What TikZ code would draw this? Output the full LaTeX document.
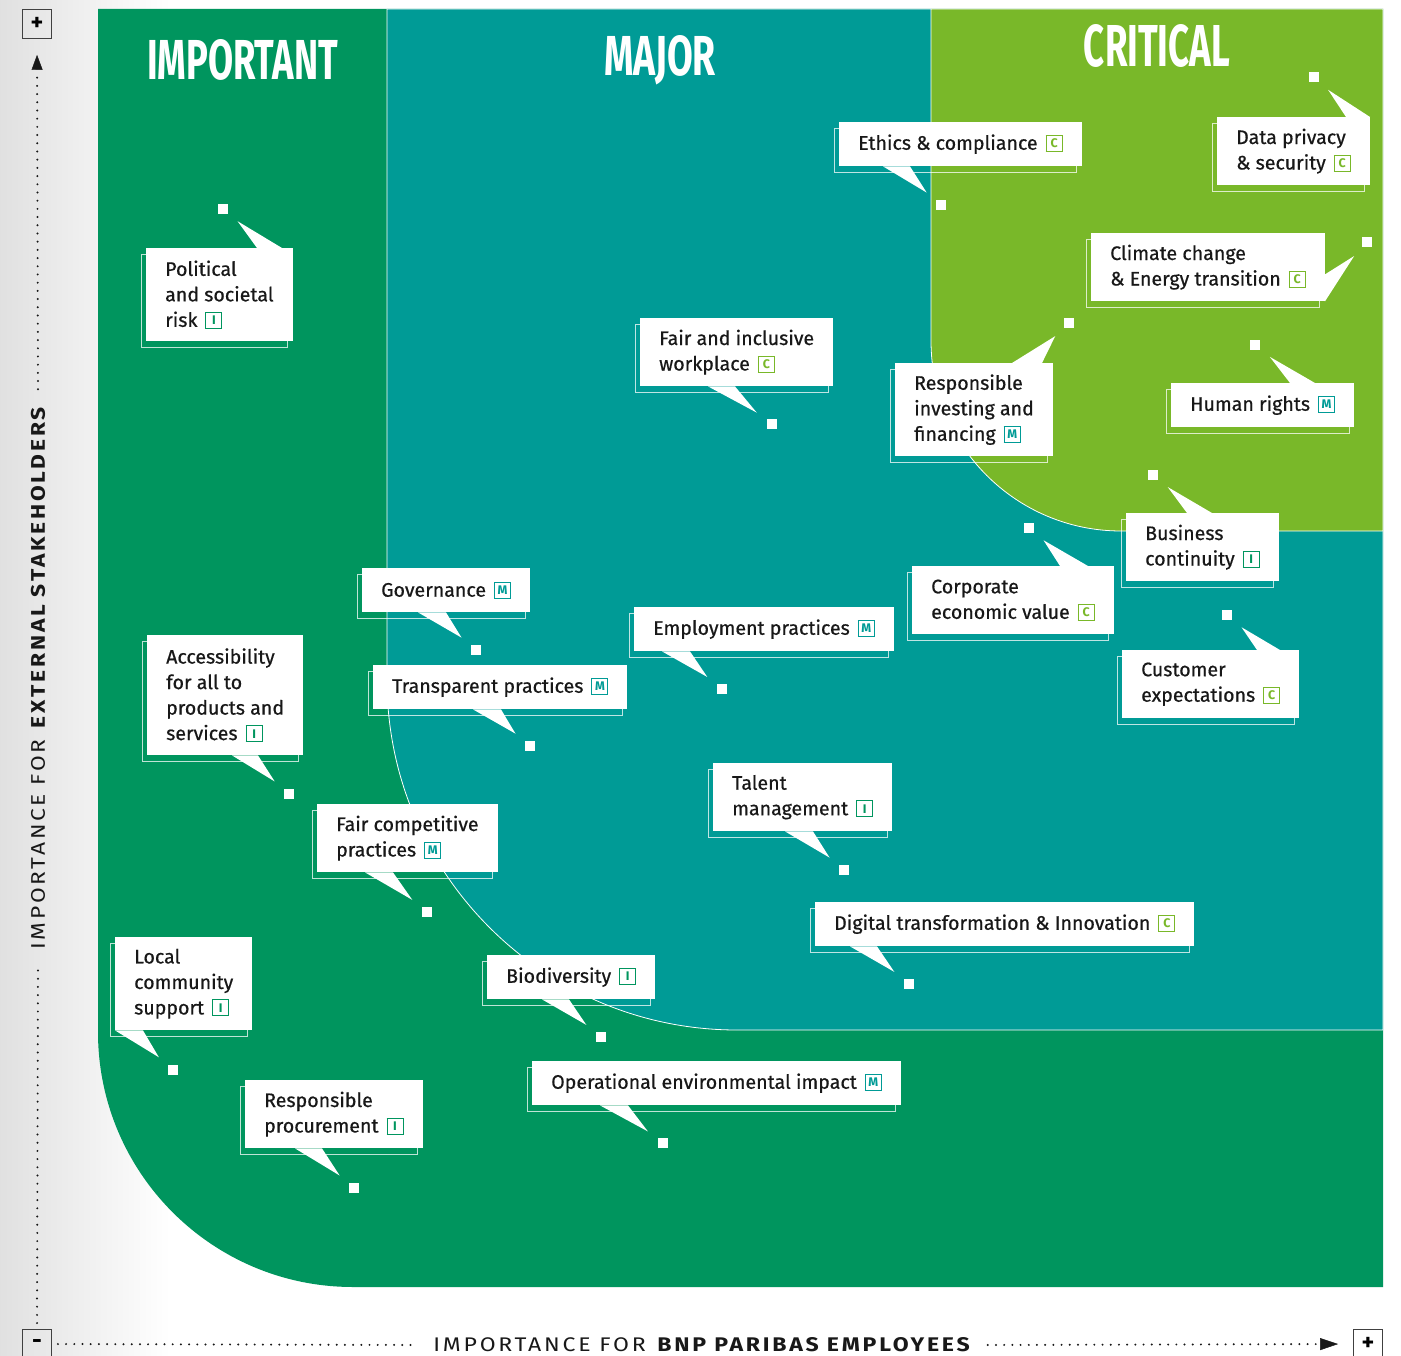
\documentclass[tikz,border=0pt]{standalone}
\usepackage{fontspec}
\setmainfont{Fira Sans}[UprightFeatures={FakeBold=0.6}]
\newfontfamily\axisfont[LetterSpace=12]{Fira Sans}
\usepackage{graphicx}
\usetikzlibrary{arrows.meta,calc,shadows}

\definecolor{important}{RGB}{0,149,94}
\definecolor{major}{RGB}{0,155,150}
\definecolor{critical}{RGB}{121,184,41}
\definecolor{ink}{RGB}{24,24,24}

% small coloured level tag behind a label
\newcommand{\grade}[2]{\hspace{8pt}\raisebox{-1pt}{\setlength{\fboxsep}{0pt}\setlength{\fboxrule}{1pt}%
  \fcolorbox{#1}{white}{\makebox[15pt]{\rule{0pt}{15pt}\raisebox{3pt}{\color{#1}\fontsize{12.5}{12.5}\selectfont\bfseries #2}}}}}
% pointer of a callout: box, anchor, two offsets on its edge, marker
\newcommand{\callouttip}[5]{%
  \path ($(#1.#2)+(#3)$) coordinate (t1);
  \path ($(#1.#2)+(#4)$) coordinate (t2);
  \path ($(t1)!.5!(t2)$) coordinate (tm);
  \fill [white] (t1) -- ($(#5)!19pt!(tm)$) -- (t2) -- cycle;}

\begin{document}
\begin{tikzpicture}[x=1pt,y=-1pt]
  \tikzstyle{issue} = [fill=white, text=ink, align=left, anchor=north west, inner xsep=19pt, inner ysep=0pt,
    font=\fontsize{19.6}{25.5}\selectfont,
    copy shadow={shadow xshift=-5pt, shadow yshift=-6pt, fill=none, draw=white, opacity=.75, line width=.8pt}]
  \tikzstyle{l1} = [minimum height=44pt]
  \tikzstyle{l2} = [minimum height=68pt]
  \tikzstyle{l3} = [minimum height=93pt]
  \tikzstyle{l4} = [minimum height=120pt]
  \tikzstyle{spot} = [fill=white, minimum size=10pt, inner sep=0pt]
  \tikzstyle{title} = [text=white, font=\bfseries, inner sep=0pt]
  \tikzstyle{axisbox} = [draw=black!75, line width=.8pt, minimum size=29pt, inner sep=0pt, font=\bfseries\fontsize{24}{24}\selectfont]
  \tikzstyle{axislabel} = [text=ink, inner xsep=15pt, inner ysep=0pt, font=\axisfont]
  \tikzstyle{dots} = [ink, line width=2.2pt, line cap=round, dash pattern=on 0pt off 8.2pt]

  \useasboundingbox (0,0) rectangle (1401,1356);
  \fill [white] (0,0) rectangle (1401,1356);
  \shade [left color=black!12, right color=white] (0,0) rectangle (170,1356);

  % zones
  \fill [important] (1383,9) -- (98,9) -- (98,1032) arc[start angle=180, end angle=270, radius=255pt] -- (1383,1287) -- cycle;
  \filldraw [major, draw=white, line width=.8pt] (1383,9) -- (387,9) -- (387,680) arc[start angle=180, end angle=270, radius=350pt] -- (1383,1030) -- cycle;
  \filldraw [critical, draw=white, line width=.8pt] (1383,9) -- (931,9) -- (931,341) arc[start angle=180, end angle=270, radius=190pt] -- (1383,531) -- cycle;

  \node [title] (timportant) at (242.5,59.5) {\resizebox{191pt}{40pt}{IMPORTANT}};
  \node [title] (tmajor) at (660,60) {\resizebox{112pt}{40pt}{MAJOR}};
  \node [title] (tcritical) at (1157,46) {\resizebox{146pt}{42pt}{CRITICAL}};

  % axes
  \node [axisbox] (ytop) at (37,24) {+};
  \node [axisbox] (origin) at (37,1344) {-};
  \node [axisbox] (xend) at (1368,1344) {+};
  \node [axislabel, rotate=90] (ylabel) at (38,677) {\resizebox{545pt}{14pt}{IMPORTANCE FOR \textbf{EXTERNAL STAKEHOLDERS}}};
  \node [axislabel] (xlabel) at (703,1345) {\resizebox{539pt}{14pt}{IMPORTANCE FOR \textbf{BNP PARIBAS EMPLOYEES}}};
  \draw [dots, shorten <=6pt] (origin.north) -- (ylabel.west);
  \draw [dots, shorten >=16pt, -{Triangle[length=15pt,width=11pt,line width=.4pt]}] (ylabel.east) -- (ytop.south);
  \draw [dots, shorten <=6pt] (origin.east) -- (xlabel.west);
  \draw [dots, shorten >=15pt, -{Triangle[length=18pt,width=12pt,line width=.4pt]}] (xlabel.east) -- (xend.west);

  % issues
  \node [issue, l3] (political) at (146,248) {Political\\and societal\\risk\grade{important}{I}};
  \node [issue, l1] (ethics) at (839,122) {Ethics \& compliance\grade{critical}{C}};
  \node [issue, l2] (privacy) at (1217,117) {Data privacy\\\& security\grade{critical}{C}};
  \node [issue, l2] (climate) at (1091,233) {Climate change\\\& Energy transition\grade{critical}{C}};
  \node [issue, l2] (workplace) at (640,318) {Fair and inclusive\\workplace\grade{critical}{C}};
  \node [issue, l3] (investing) at (895,363) {Responsible\\investing and\\financing\grade{major}{M}};
  \node [issue, l1] (rights) at (1171,383) {Human rights\grade{major}{M}};
  \node [issue, l2] (continuity) at (1126,513) {Business\\continuity\grade{important}{I}};
  \node [issue, l2] (customer) at (1122,650) {Customer\\expectations\grade{critical}{C}};
  \node [issue, l2] (economic) at (912,566) {Corporate\\economic value\grade{critical}{C}};
  \node [issue, l1] (employment) at (634,607) {Employment practices\grade{major}{M}};
  \node [issue, l1] (governance) at (362,568) {Governance\grade{major}{M}};
  \node [issue, l1] (transparent) at (373,665) {Transparent practices\grade{major}{M}};
  \node [issue, l4] (access) at (147,635) {Accessibility\\for all to\\products and\\services\grade{important}{I}};
  \node [issue, l2] (competition) at (317,804) {Fair competitive\\practices\grade{major}{M}};
  \node [issue, l2] (talent) at (713,763) {Talent\\management\grade{important}{I}};
  \node [issue, l1] (digital) at (815,902) {Digital transformation \& Innovation\grade{critical}{C}};
  \node [issue, l1] (biodiversity) at (487,955) {Biodiversity\grade{important}{I}};
  \node [issue, l3] (community) at (115,937) {Local\\community\\support\grade{important}{I}};
  \node [issue, l2] (procurement) at (245,1080) {Responsible\\procurement\grade{important}{I}};
  \node [issue, l1] (operational) at (532,1061) {Operational environmental impact\grade{major}{M}};

  % positions on the matrix
  \foreach \n/\x/\y in {mpol/223/209, meth/941/205, mpriv/1314/77, mclim/1367/242, mwork/772/424,
      minv/1069/323, mrights/1255/345, mcont/1153/475, mcust/1227/615, mecon/1029/528,
      memp/722/689, mgov/476/650, mtrans/530/746, macc/289/794, mcomp/427/912, mtal/844/870,
      mdig/909/984, mbio/601/1037, mcomm/173/1070, mproc/354/1188, mop/663/1143}
    \node [spot] (\n) at (\x,\y) {};

  \callouttip{political}{north west}{111,0}{136,0}{mpol}
  \callouttip{ethics}{south west}{44,0}{71,0}{meth}
  \callouttip{privacy}{north east}{-24,0}{0,0}{mpriv}
  \callouttip{climate}{south east}{0,-27}{0,0}{mclim}
  \callouttip{workplace}{south west}{68,0}{95,0}{mwork}
  \callouttip{investing}{north east}{-41,0}{-11,0}{minv}
  \callouttip{rights}{north west}{119,0}{144,0}{mrights}
  \callouttip{continuity}{north west}{61,0}{86,0}{mcont}
  \callouttip{customer}{north west}{135,0}{158,0}{mcust}
  \callouttip{economic}{north west}{148,0}{176,0}{mecon}
  \callouttip{employment}{south west}{28,0}{56,0}{memp}
  \callouttip{governance}{south west}{56,0}{84,0}{mgov}
  \callouttip{transparent}{south west}{100,0}{128,0}{mtrans}
  \callouttip{access}{south west}{85,0}{111,0}{macc}
  \callouttip{competition}{south west}{48,0}{76,0}{mcomp}
  \callouttip{talent}{south west}{72,0}{100,0}{mtal}
  \callouttip{digital}{south west}{35,0}{62,0}{mdig}
  \callouttip{biodiversity}{south west}{55,0}{82,0}{mbio}
  \callouttip{community}{south west}{0,0}{28,0}{mcomm}
  \callouttip{procurement}{south west}{50,0}{77,0}{mproc}
  \callouttip{operational}{south west}{68,0}{96,0}{mop}
\end{tikzpicture}
\end{document}
